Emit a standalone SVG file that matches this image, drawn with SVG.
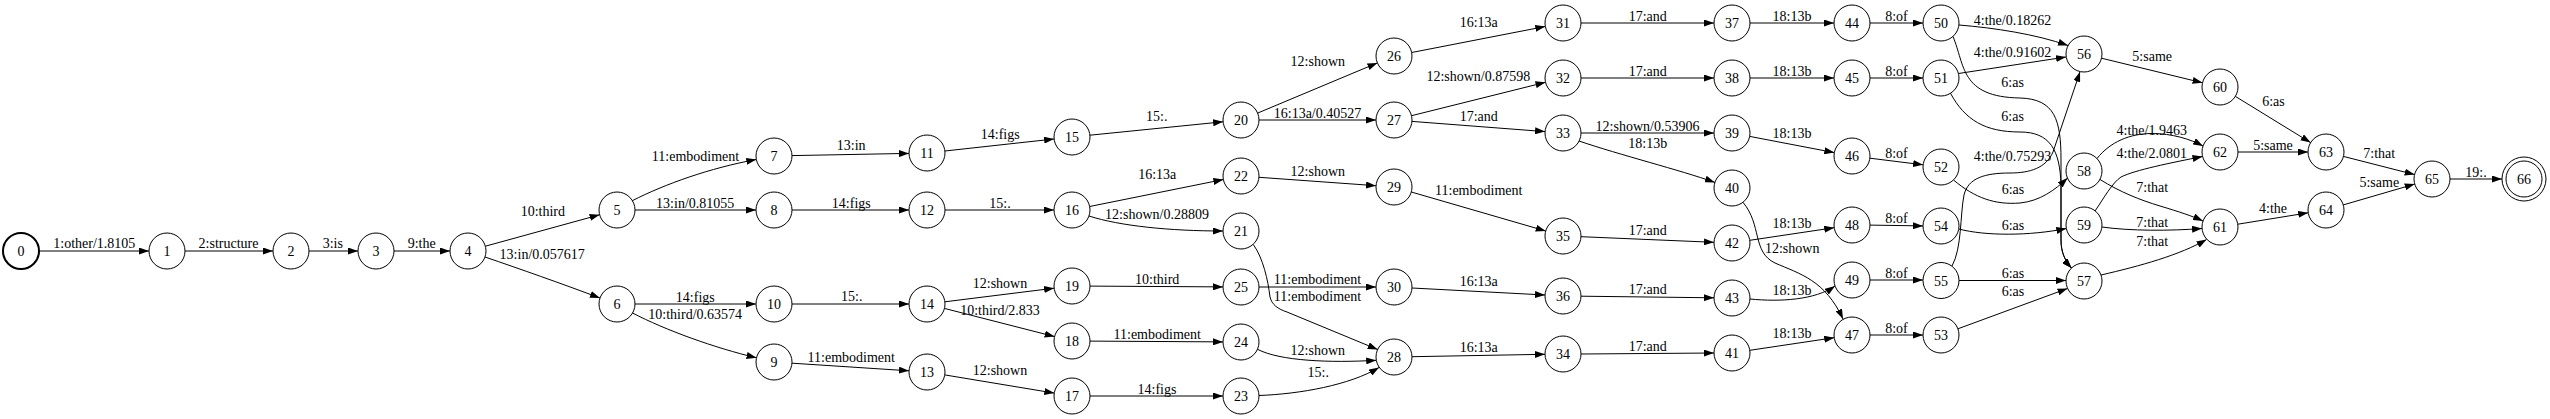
<svg xmlns="http://www.w3.org/2000/svg" width="2550" height="419" viewBox="0 0 2550 419">
<defs>
<style>
.node circle{fill:none;stroke:#000;stroke-width:1}
.node text,.lbl text{font-family:"Liberation Serif","Times New Roman",serif;font-size:14px;text-anchor:middle;fill:#000}
.edge{fill:none;stroke:#000;stroke-width:1;marker-end:url(#arr)}
</style>
<marker id="arr" markerWidth="10" markerHeight="7" refX="10" refY="3.5" orient="auto" markerUnits="userSpaceOnUse"><path d="M0,0 L10,3.5 L0,7 z" fill="#000"/></marker>
</defs>
<rect width="2550" height="419" fill="#fff"/>
<g id="connectors">
<path class="edge" d="M39,251 L149,251"/>
<path class="edge" d="M185,251 L273,251"/>
<path class="edge" d="M309,251 L358,251"/>
<path class="edge" d="M394,251 L450,251"/>
<path class="edge" d="M485.4,246.2 L599.6,214.8"/>
<path class="edge" d="M485,257 C520,269 560,283 600,298"/>
<path class="edge" d="M632.3,200.7 C665,184 710,168 756.3,159.5"/>
<path class="edge" d="M635,210 L756,210"/>
<path class="edge" d="M635,304 L756,304"/>
<path class="edge" d="M632.6,313 C665,330 715,348 756.5,357.8"/>
<path class="edge" d="M792,155.6 L909,153.4"/>
<path class="edge" d="M792,210 L909,210"/>
<path class="edge" d="M792,304 L909,304"/>
<path class="edge" d="M792,363.2 L909,370.8"/>
<path class="edge" d="M944.9,151 L1054.1,139"/>
<path class="edge" d="M945,210 L1054,210"/>
<path class="edge" d="M944.9,301.8 L1054.1,288.2"/>
<path class="edge" d="M944.4,308.4 L1054.6,336.6"/>
<path class="edge" d="M944.7,374.9 L1054.3,393.1"/>
<path class="edge" d="M1089.9,135.2 L1223.1,121.8"/>
<path class="edge" d="M1089.6,206.5 L1223.4,179.5"/>
<path class="edge" d="M1089,216 C1120,226 1170,231 1223,231"/>
<path class="edge" d="M1090,286.1 L1223,286.9"/>
<path class="edge" d="M1090,341.1 L1223,341.9"/>
<path class="edge" d="M1090,396 L1223,396"/>
<path class="edge" d="M1257.6,113.1 L1377.4,62.9"/>
<path class="edge" d="M1259,120 L1376,120"/>
<path class="edge" d="M1259,177.3 L1376,185.7"/>
<path class="edge" d="M1253.3,244.5 C1263,258 1268,280 1270,297 C1272,305 1278,309 1287,312 L1377.7,349.5"/>
<path class="edge" d="M1259,287 L1376,287"/>
<path class="edge" d="M1257.5,349.3 C1280,361 1330,363 1376.2,360.3"/>
<path class="edge" d="M1259,395.5 C1300,394 1350,385 1379,367.5"/>
<path class="edge" d="M1411.7,52.5 L1545.3,26.5"/>
<path class="edge" d="M1411.5,115.7 L1545.5,82.3"/>
<path class="edge" d="M1412,121.4 L1545,131.6"/>
<path class="edge" d="M1411.3,192 L1545.7,231"/>
<path class="edge" d="M1412,288 L1545,295"/>
<path class="edge" d="M1412,356.7 L1545,354.3"/>
<path class="edge" d="M1581,23 L1714,23"/>
<path class="edge" d="M1581,78 L1714,78"/>
<path class="edge" d="M1581,133 L1714,133"/>
<path class="edge" d="M1579,141 C1620,155 1680,170 1714.9,182.4"/>
<path class="edge" d="M1581,236.7 L1714,242.3"/>
<path class="edge" d="M1581,296.2 L1714,297.8"/>
<path class="edge" d="M1581,354 L1714,353"/>
<path class="edge" d="M1750,23 L1834,23"/>
<path class="edge" d="M1750,78 L1834,78"/>
<path class="edge" d="M1749.7,136.4 L1834.3,152.6"/>
<path class="edge" d="M1743,202.3 C1762,225 1752,252 1775,263 C1800,274 1825,280 1843,319"/>
<path class="edge" d="M1749.8,240.3 L1834.2,227.7"/>
<path class="edge" d="M1750,299 C1780,302 1815,300 1835,286"/>
<path class="edge" d="M1749.8,350.3 L1834.2,337.7"/>
<path class="edge" d="M1870,23 L1923,23"/>
<path class="edge" d="M1870,78 L1923,78"/>
<path class="edge" d="M1869.9,158.2 L1923.1,164.8"/>
<path class="edge" d="M1870,225.1 L1923,225.9"/>
<path class="edge" d="M1870,280 L1923,280"/>
<path class="edge" d="M1870,335 L1923,335"/>
<path class="edge" d="M1959,25 C1995,28 2035,34 2068,45.5"/>
<path class="edge" d="M1958.5,73.5 L2066,57"/>
<path class="edge" d="M1953,36.5 C1965,65 1960,97 2020,98 C2055,99 2061,120 2061,160 L2061,240 C2061,252 2065,261 2071.5,268"/>
<path class="edge" d="M1950.5,93.3 C1965,120 1985,132 2020,132 C2050,132 2060,150 2061,185 L2061,240 C2061,252 2065,261 2071.5,268"/>
<path class="edge" d="M1952,266 C1962,248 1960,215 1964,195 C1968,178 1985,173 2010,173 C2030,173 2046,168 2053,152 L2080,71.8"/>
<path class="edge" d="M1953.5,180 C1975,198 1995,205 2020,203 C2040,201 2055,190 2067.5,178"/>
<path class="edge" d="M1958.8,229 C1985,236 2030,236 2066.3,228.5"/>
<path class="edge" d="M1959,280.5 L2066,280.5"/>
<path class="edge" d="M1957.9,328.8 L2067.5,288.5"/>
<path class="edge" d="M2101.5,58.2 L2202.5,82.8"/>
<path class="edge" d="M2097,158.5 C2110,142 2130,133.5 2152,133.5 C2172,133.5 2190,139 2203,146"/>
<path class="edge" d="M2095,211 C2104,198 2112,183 2121,177 C2135,170 2170,163 2202.5,156.5"/>
<path class="edge" d="M2100,179.5 C2120,192 2140,200 2160,206 C2180,212 2192,216 2203,221"/>
<path class="edge" d="M2102,227 C2130,231 2170,231 2202,228.5"/>
<path class="edge" d="M2101,275 C2140,266 2180,255 2206.5,239.5"/>
<path class="edge" d="M2235.4,96.4 L2310.6,142.6"/>
<path class="edge" d="M2238,152 L2308,152"/>
<path class="edge" d="M2237.8,224.2 L2308.2,212.8"/>
<path class="edge" d="M2343.4,156.4 L2414.6,174.6"/>
<path class="edge" d="M2343.3,204.9 L2414.7,184.1"/>
<path class="edge" d="M2450,179 L2502,179"/>
<g class="lbl">
<text x="94.3" y="248">1:other/1.8105</text>
<text x="228.5" y="248">2:structure</text>
<text x="332.8" y="248">3:is</text>
<text x="421.7" y="248">9:the</text>
<text x="542.8" y="216">10:third</text>
<text x="542.2" y="259">13:in/0.057617</text>
<text x="695.5" y="161">11:embodiment</text>
<text x="695.2" y="208">13:in/0.81055</text>
<text x="695.3" y="302">14:figs</text>
<text x="695.2" y="319">10:third/0.63574</text>
<text x="851.2" y="150">13:in</text>
<text x="851.3" y="207.5">14:figs</text>
<text x="851.7" y="301">15:.</text>
<text x="851.3" y="362">11:embodiment</text>
<text x="1000.2" y="139">14:figs</text>
<text x="1000" y="207.5">15:.</text>
<text x="1000" y="288">12:shown</text>
<text x="1000" y="314.5">10:third/2.833</text>
<text x="1000" y="375">12:shown</text>
<text x="1156.7" y="121">15:.</text>
<text x="1157.3" y="179">16:13a</text>
<text x="1157" y="218.5">12:shown/0.28809</text>
<text x="1157.2" y="283.5">10:third</text>
<text x="1157.2" y="339">11:embodiment</text>
<text x="1157" y="394">14:figs</text>
<text x="1317.8" y="66">12:shown</text>
<text x="1317.5" y="118">16:13a/0.40527</text>
<text x="1317.8" y="176">12:shown</text>
<text x="1317.5" y="284">11:embodiment</text>
<text x="1317.5" y="301">11:embodiment</text>
<text x="1317.8" y="355">12:shown</text>
<text x="1318.3" y="377">15:.</text>
<text x="1478.7" y="27">16:13a</text>
<text x="1478.3" y="81">12:shown/0.87598</text>
<text x="1478.7" y="121">17:and</text>
<text x="1478.7" y="195">11:embodiment</text>
<text x="1478.7" y="286">16:13a</text>
<text x="1478.7" y="352">16:13a</text>
<text x="1647.7" y="20.5">17:and</text>
<text x="1647.7" y="75.5">17:and</text>
<text x="1647.5" y="130.5">12:shown/0.53906</text>
<text x="1647.7" y="148">18:13b</text>
<text x="1647.7" y="234.5">17:and</text>
<text x="1647.7" y="293.5">17:and</text>
<text x="1647.7" y="350.5">17:and</text>
<text x="1792" y="20.5">18:13b</text>
<text x="1792" y="75.5">18:13b</text>
<text x="1792" y="138">18:13b</text>
<text x="1792" y="228">18:13b</text>
<text x="1792.2" y="253">12:shown</text>
<text x="1792" y="295">18:13b</text>
<text x="1792" y="338">18:13b</text>
<text x="1896.5" y="20.5">8:of</text>
<text x="1896.5" y="75.5">8:of</text>
<text x="1896.5" y="158">8:of</text>
<text x="1896.5" y="223">8:of</text>
<text x="1896.5" y="278">8:of</text>
<text x="1896.5" y="333">8:of</text>
<text x="2012.5" y="24.5">4:the/0.18262</text>
<text x="2012.5" y="57">4:the/0.91602</text>
<text x="2012.6" y="87">6:as</text>
<text x="2012.6" y="121">6:as</text>
<text x="2012.5" y="160.5">4:the/0.75293</text>
<text x="2013" y="194">6:as</text>
<text x="2013" y="230">6:as</text>
<text x="2013" y="278">6:as</text>
<text x="2013" y="295.5">6:as</text>
<text x="2152.2" y="61">5:same</text>
<text x="2273.5" y="106">6:as</text>
<text x="2151.8" y="135">4:the/1.9463</text>
<text x="2151.8" y="158">4:the/2.0801</text>
<text x="2152.2" y="191.5">7:that</text>
<text x="2152.2" y="227">7:that</text>
<text x="2152.2" y="246">7:that</text>
<text x="2273" y="150">5:same</text>
<text x="2273" y="213">4:the</text>
<text x="2379.3" y="158">7:that</text>
<text x="2379.3" y="187">5:same</text>
<text x="2476" y="177">19:.</text>
</g>
</g>
<g id="n0" class="node"><circle cx="21" cy="251" r="18" style="stroke-width:2"/><text x="21" y="256">0</text></g>
<g id="n1" class="node"><circle cx="167" cy="251" r="18"/><text x="167" y="256">1</text></g>
<g id="n2" class="node"><circle cx="291" cy="251" r="18"/><text x="291" y="256">2</text></g>
<g id="n3" class="node"><circle cx="376" cy="251" r="18"/><text x="376" y="256">3</text></g>
<g id="n4" class="node"><circle cx="468" cy="251" r="18"/><text x="468" y="256">4</text></g>
<g id="n5" class="node"><circle cx="617" cy="210" r="18"/><text x="617" y="215">5</text></g>
<g id="n6" class="node"><circle cx="617" cy="304" r="18"/><text x="617" y="309">6</text></g>
<g id="n7" class="node"><circle cx="774" cy="156" r="18"/><text x="774" y="161">7</text></g>
<g id="n8" class="node"><circle cx="774" cy="210" r="18"/><text x="774" y="215">8</text></g>
<g id="n10" class="node"><circle cx="774" cy="304" r="18"/><text x="774" y="309">10</text></g>
<g id="n9" class="node"><circle cx="774" cy="362" r="18"/><text x="774" y="367">9</text></g>
<g id="n11" class="node"><circle cx="927" cy="153" r="18"/><text x="927" y="158">11</text></g>
<g id="n12" class="node"><circle cx="927" cy="210" r="18"/><text x="927" y="215">12</text></g>
<g id="n14" class="node"><circle cx="927" cy="304" r="18"/><text x="927" y="309">14</text></g>
<g id="n13" class="node"><circle cx="927" cy="372" r="18"/><text x="927" y="377">13</text></g>
<g id="n15" class="node"><circle cx="1072" cy="137" r="18"/><text x="1072" y="142">15</text></g>
<g id="n16" class="node"><circle cx="1072" cy="210" r="18"/><text x="1072" y="215">16</text></g>
<g id="n19" class="node"><circle cx="1072" cy="286" r="18"/><text x="1072" y="291">19</text></g>
<g id="n18" class="node"><circle cx="1072" cy="341" r="18"/><text x="1072" y="346">18</text></g>
<g id="n17" class="node"><circle cx="1072" cy="396" r="18"/><text x="1072" y="401">17</text></g>
<g id="n20" class="node"><circle cx="1241" cy="120" r="18"/><text x="1241" y="125">20</text></g>
<g id="n22" class="node"><circle cx="1241" cy="176" r="18"/><text x="1241" y="181">22</text></g>
<g id="n21" class="node"><circle cx="1241" cy="231" r="18"/><text x="1241" y="236">21</text></g>
<g id="n25" class="node"><circle cx="1241" cy="287" r="18"/><text x="1241" y="292">25</text></g>
<g id="n24" class="node"><circle cx="1241" cy="342" r="18"/><text x="1241" y="347">24</text></g>
<g id="n23" class="node"><circle cx="1241" cy="396" r="18"/><text x="1241" y="401">23</text></g>
<g id="n26" class="node"><circle cx="1394" cy="56" r="18"/><text x="1394" y="61">26</text></g>
<g id="n27" class="node"><circle cx="1394" cy="120" r="18"/><text x="1394" y="125">27</text></g>
<g id="n29" class="node"><circle cx="1394" cy="187" r="18"/><text x="1394" y="192">29</text></g>
<g id="n30" class="node"><circle cx="1394" cy="287" r="18"/><text x="1394" y="292">30</text></g>
<g id="n28" class="node"><circle cx="1394" cy="357" r="18"/><text x="1394" y="362">28</text></g>
<g id="n31" class="node"><circle cx="1563" cy="23" r="18"/><text x="1563" y="28">31</text></g>
<g id="n32" class="node"><circle cx="1563" cy="78" r="18"/><text x="1563" y="83">32</text></g>
<g id="n33" class="node"><circle cx="1563" cy="133" r="18"/><text x="1563" y="138">33</text></g>
<g id="n35" class="node"><circle cx="1563" cy="236" r="18"/><text x="1563" y="241">35</text></g>
<g id="n36" class="node"><circle cx="1563" cy="296" r="18"/><text x="1563" y="301">36</text></g>
<g id="n34" class="node"><circle cx="1563" cy="354" r="18"/><text x="1563" y="359">34</text></g>
<g id="n37" class="node"><circle cx="1732" cy="23" r="18"/><text x="1732" y="28">37</text></g>
<g id="n38" class="node"><circle cx="1732" cy="78" r="18"/><text x="1732" y="83">38</text></g>
<g id="n39" class="node"><circle cx="1732" cy="133" r="18"/><text x="1732" y="138">39</text></g>
<g id="n40" class="node"><circle cx="1732" cy="188" r="18"/><text x="1732" y="193">40</text></g>
<g id="n42" class="node"><circle cx="1732" cy="243" r="18"/><text x="1732" y="248">42</text></g>
<g id="n43" class="node"><circle cx="1732" cy="298" r="18"/><text x="1732" y="303">43</text></g>
<g id="n41" class="node"><circle cx="1732" cy="353" r="18"/><text x="1732" y="358">41</text></g>
<g id="n44" class="node"><circle cx="1852" cy="23" r="18"/><text x="1852" y="28">44</text></g>
<g id="n45" class="node"><circle cx="1852" cy="78" r="18"/><text x="1852" y="83">45</text></g>
<g id="n46" class="node"><circle cx="1852" cy="156" r="18"/><text x="1852" y="161">46</text></g>
<g id="n48" class="node"><circle cx="1852" cy="225" r="18"/><text x="1852" y="230">48</text></g>
<g id="n49" class="node"><circle cx="1852" cy="280" r="18"/><text x="1852" y="285">49</text></g>
<g id="n47" class="node"><circle cx="1852" cy="335" r="18"/><text x="1852" y="340">47</text></g>
<g id="n50" class="node"><circle cx="1941" cy="23" r="18"/><text x="1941" y="28">50</text></g>
<g id="n51" class="node"><circle cx="1941" cy="78" r="18"/><text x="1941" y="83">51</text></g>
<g id="n52" class="node"><circle cx="1941" cy="167" r="18"/><text x="1941" y="172">52</text></g>
<g id="n54" class="node"><circle cx="1941" cy="226" r="18"/><text x="1941" y="231">54</text></g>
<g id="n55" class="node"><circle cx="1941" cy="280.5" r="18"/><text x="1941" y="285.5">55</text></g>
<g id="n53" class="node"><circle cx="1941" cy="335" r="18"/><text x="1941" y="340">53</text></g>
<g id="n56" class="node"><circle cx="2084" cy="54" r="18"/><text x="2084" y="59">56</text></g>
<g id="n58" class="node"><circle cx="2084" cy="171" r="18"/><text x="2084" y="176">58</text></g>
<g id="n59" class="node"><circle cx="2084" cy="225" r="18"/><text x="2084" y="230">59</text></g>
<g id="n57" class="node"><circle cx="2084" cy="281" r="18"/><text x="2084" y="286">57</text></g>
<g id="n60" class="node"><circle cx="2220" cy="87" r="18"/><text x="2220" y="92">60</text></g>
<g id="n62" class="node"><circle cx="2220" cy="152" r="18"/><text x="2220" y="157">62</text></g>
<g id="n61" class="node"><circle cx="2220" cy="227" r="18"/><text x="2220" y="232">61</text></g>
<g id="n63" class="node"><circle cx="2326" cy="152" r="18"/><text x="2326" y="157">63</text></g>
<g id="n64" class="node"><circle cx="2326" cy="210" r="18"/><text x="2326" y="215">64</text></g>
<g id="n65" class="node"><circle cx="2432" cy="179" r="18"/><text x="2432" y="184">65</text></g>
<g id="n66" class="node"><circle cx="2524" cy="179" r="18"/><circle cx="2524" cy="179" r="22"/><text x="2524" y="184">66</text></g>
</svg>
